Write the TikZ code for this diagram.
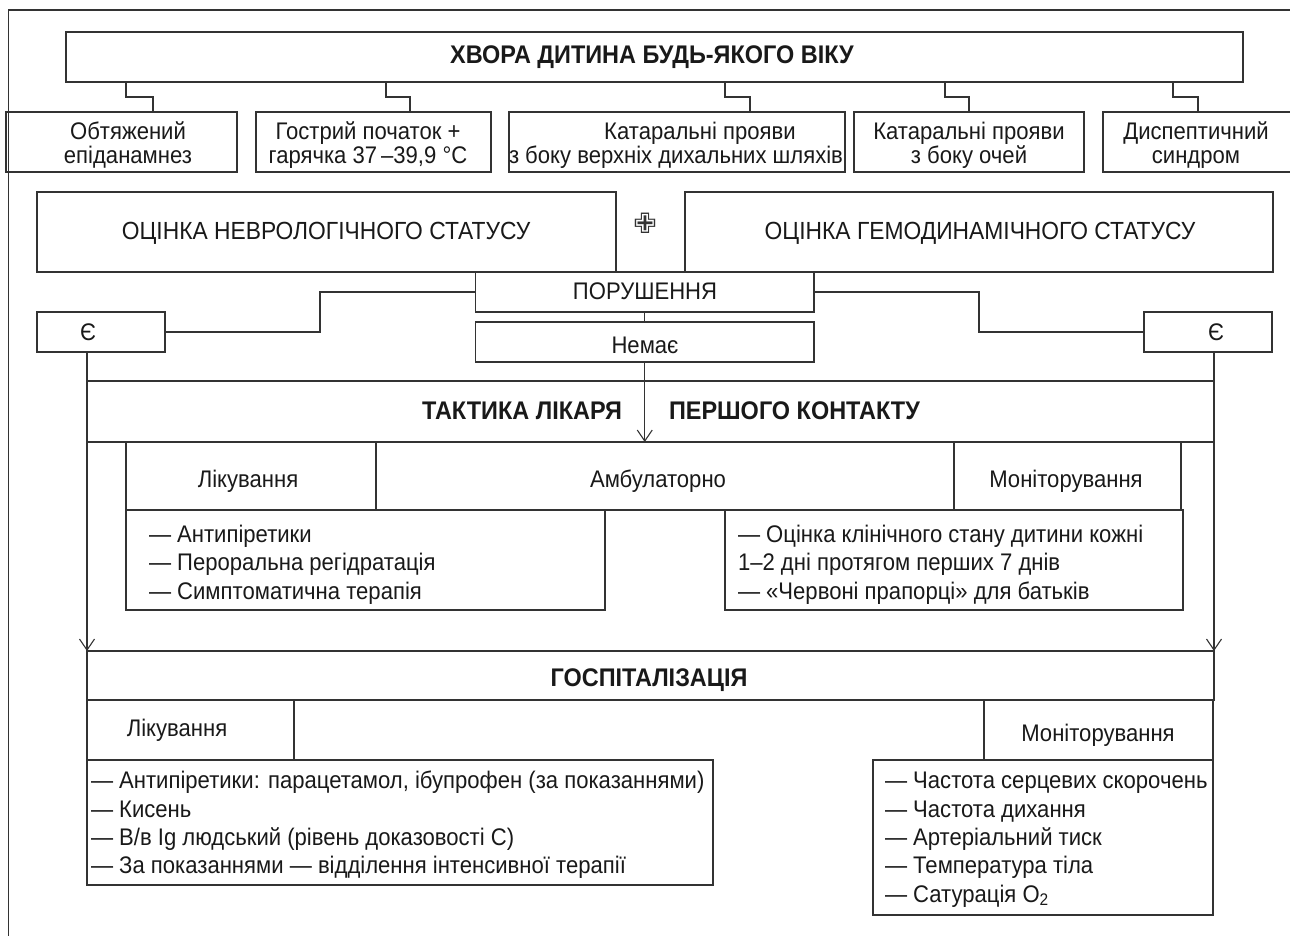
\documentclass[tikz,border=0pt]{standalone}
\usepackage{fontspec}
\setmainfont{Liberation Sans}[FakeStretch=0.92]
\newfontfamily\symfont{DejaVu Sans}
\usetikzlibrary{arrows.meta}
\newcommand\fs{\fontsize{24}{26}\selectfont}
\newcommand\fsl{\fontsize{24.8}{27}\selectfont}
\newcommand\fsb{\fontsize{25.5}{27}\selectfont\bfseries}
\newcommand\bx[5]{\node[box, minimum width={#4-#2}, minimum height={#5-#3}] (#1) at ({(#2+#4)/2},{(#3+#5)/2}) {};}
\newcommand\nbx[5]{\node[nobox, minimum width={#4-#2}, minimum height={#5-#3}] (#1) at ({(#2+#4)/2},{(#3+#5)/2}) {};}
\begin{document}
\begin{tikzpicture}[x=1pt,y=-1pt,
  box/.style={draw=black!80, line width=1.1pt, inner sep=0pt, outer sep=0pt},
  nobox/.style={inner sep=0pt, outer sep=0pt},
  txt/.style={inner sep=0pt, outer sep=0pt, font=\fs, text=black!90},
  ltxt/.style={txt, font=\fsl},
  btxt/.style={txt, font=\fsb},
  ln/.style={draw=black!80, line width=1.1pt},
  arr/.style={ln, -{Straight Barb[length=11pt,width=15pt]}}]
\useasboundingbox (0,0) rectangle (1290,936);
% outer frame (top and left)
\coordinate (fa) at (8.5,936);
\coordinate (fb) at (8.5,10);
\coordinate (fc) at (1290,10);
\draw[ln] (fa) -- (fb) -- (fc);

% title
\bx{top}{66}{32}{1243}{82}
\node[btxt, anchor=base] (ttop) at (652,64) {ХВОРА ДИТИНА БУДЬ-ЯКОГО ВІКУ};

% row of signs
\bx{b1}{6}{112}{237}{172}
\bx{b2}{256}{112}{491}{172}
\bx{b3}{509}{112}{845}{172}
\bx{b4}{854}{112}{1084}{172}
\nbx{b5}{1103}{112}{1291}{172}
\draw[ln] (b5.north east) -- (b5.north west) -- (b5.south west) -- (b5.south east);

\node[txt, anchor=base] (t1a) at (128,140) {Обтяжений};
\node[txt, anchor=base] (t1b) at (128,164) {епіданамнез};
\node[txt, anchor=base] (t2a) at (368,140) {Гострий початок +};
\node[txt, anchor=base] (t2b) at (368,164) {гарячка 37\,–39,9 °С};
\node[txt, anchor=base] (t3a) at (700,140) {Катаральні прояви};
\node[txt, anchor=base] (t3b) at (676,164) {з боку верхніх дихальних шляхів};
\node[txt, anchor=base] (t4a) at (969,140) {Катаральні прояви};
\node[txt, anchor=base] (t4b) at (969,164) {з боку очей};
\node[txt, anchor=base] (t5a) at (1196,140) {Диспептичний};
\node[txt, anchor=base] (t5b) at (1196,164) {синдром};

% elbow connectors
\coordinate (k1) at (126,97);  \coordinate (m1) at (153,97);
\coordinate (k2) at (386,97);  \coordinate (m2) at (410,97);
\coordinate (k3) at (725,97);  \coordinate (m3) at (750,97);
\coordinate (k4) at (945,97);  \coordinate (m4) at (969,97);
\coordinate (k5) at (1173,97); \coordinate (m5) at (1198,97);
\draw[ln] (top.south -| k1) -- (k1) -- (m1) -- (b1.north -| m1);
\draw[ln] (top.south -| k2) -- (k2) -- (m2) -- (b2.north -| m2);
\draw[ln] (top.south -| k3) -- (k3) -- (m3) -- (b3.north -| m3);
\draw[ln] (top.south -| k4) -- (k4) -- (m4) -- (b4.north -| m4);
\draw[ln] (top.south -| k5) -- (k5) -- (m5) -- (b5.north -| m5);

% assessments
\bx{nev}{37}{192}{616}{272}
\bx{gem}{685}{192}{1273}{272}
\node[ltxt, anchor=base] (tnev) at (326,239) {ОЦІНКА НЕВРОЛОГІЧНОГО СТАТУСУ};
\node[ltxt, anchor=base] (tgem) at (980,239) {ОЦІНКА ГЕМОДИНАМІЧНОГО СТАТУСУ};
\node[inner sep=0pt, font=\fontsize{28}{28}\selectfont\symfont, text=black!80] (plus) at (645,223) {✙};

% disorders
\bx{por}{475.5}{272}{814}{312}
\bx{nem}{475.5}{322}{814}{362}
\node[txt, anchor=base] (tpor) at (645,299) {ПОРУШЕННЯ};
\node[txt, anchor=base] (tnem) at (645,353) {Немає};
\bx{eL}{37}{312}{165}{352}
\bx{eR}{1144}{312}{1272}{352}
\node[txt, anchor=base] (teL) at (88,340) {Є};
\node[txt, anchor=base] (teR) at (1216,340) {Є};
\coordinate (cl) at (320,312);
\coordinate (cr) at (979,312);
\draw[ln] (por.west) -| (cl) |- (eL.east);
\draw[ln] (por.east) -| (cr) |- (eR.west);
\draw[ln] (por.south) -- (nem.north);

% tactics
\bx{tak}{87}{381}{1214}{442}
\node[btxt, anchor=base east] (ttak1) at (622,419) {ТАКТИКА ЛІКАРЯ};
\node[btxt, anchor=base west] (ttak2) at (669,419) {ПЕРШОГО КОНТАКТУ};
\draw[arr] (nem.south) -- (nem.south |- tak.south);

% ambulatory
\bx{ambL}{126}{442}{376}{510}
\bx{ambA}{376}{442}{954}{510}
\bx{ambM}{954}{442}{1181}{510}
\node[txt, anchor=base] (tambL) at (248,487) {Лікування};
\node[txt, anchor=base] (tambA) at (658,487) {Амбулаторно};
\node[txt, anchor=base] (tambM) at (1066,487) {Моніторування};
\bx{al}{126}{510}{605}{610}
\bx{ar}{725}{510}{1183}{610}
\node[txt, anchor=base west] (al1) at (149,542) {— Антипіретики};
\node[txt, anchor=base west] (al2) at (149,570) {— Пероральна регідратація};
\node[txt, anchor=base west] (al3) at (149,599) {— Симптоматична терапія};
\node[txt, anchor=base west] (ar1) at (738,542) {— Оцінка клінічного стану дитини кожні};
\node[txt, anchor=base west] (ar2) at (738,570) {1–2 дні протягом перших 7 днів};
\node[txt, anchor=base west] (ar3) at (738,599) {— «Червоні прапорці» для батьків};

% hospitalisation
\bx{hosp}{87}{651}{1214}{700}
\node[btxt, anchor=base] (thosp) at (649,686) {ГОСПІТАЛІЗАЦІЯ};
\draw[arr] (eL.south -| tak.west) -- (tak.west |- hosp.north);
\draw[arr] (eR.south -| tak.east) -- (tak.east |- hosp.north);
\bx{hL}{87}{700}{294}{760}
\bx{hM}{984}{700}{1213}{760}
\node[txt, anchor=base] (thL) at (177,736) {Лікування};
\node[txt, anchor=base] (thM) at (1098,741) {Моніторування};
\bx{hl}{87}{760}{713}{885}
\bx{hr}{873}{760}{1213}{915}
\node[txt, anchor=base west] (hl1) at (91,788) {— Антипіретики: парацетамол, ібупрофен (за показаннями)};
\node[txt, anchor=base west] (hl2) at (91,817) {— Кисень};
\node[txt, anchor=base west] (hl3) at (91,845) {— В/в Ig людський (рівень доказовості С)};
\node[txt, anchor=base west] (hl4) at (91,873) {— За показаннями — відділення інтенсивної терапії};
\node[txt, anchor=base west] (hr1) at (885,788) {— Частота серцевих скорочень};
\node[txt, anchor=base west] (hr2) at (885,817) {— Частота дихання};
\node[txt, anchor=base west] (hr3) at (885,845) {— Артеріальний тиск};
\node[txt, anchor=base west] (hr4) at (885,873) {— Температура тіла};
\node[txt, anchor=base west] (hr5) at (885,902) {— Сатурація О\textsubscript{2}};
\end{tikzpicture}
\end{document}
